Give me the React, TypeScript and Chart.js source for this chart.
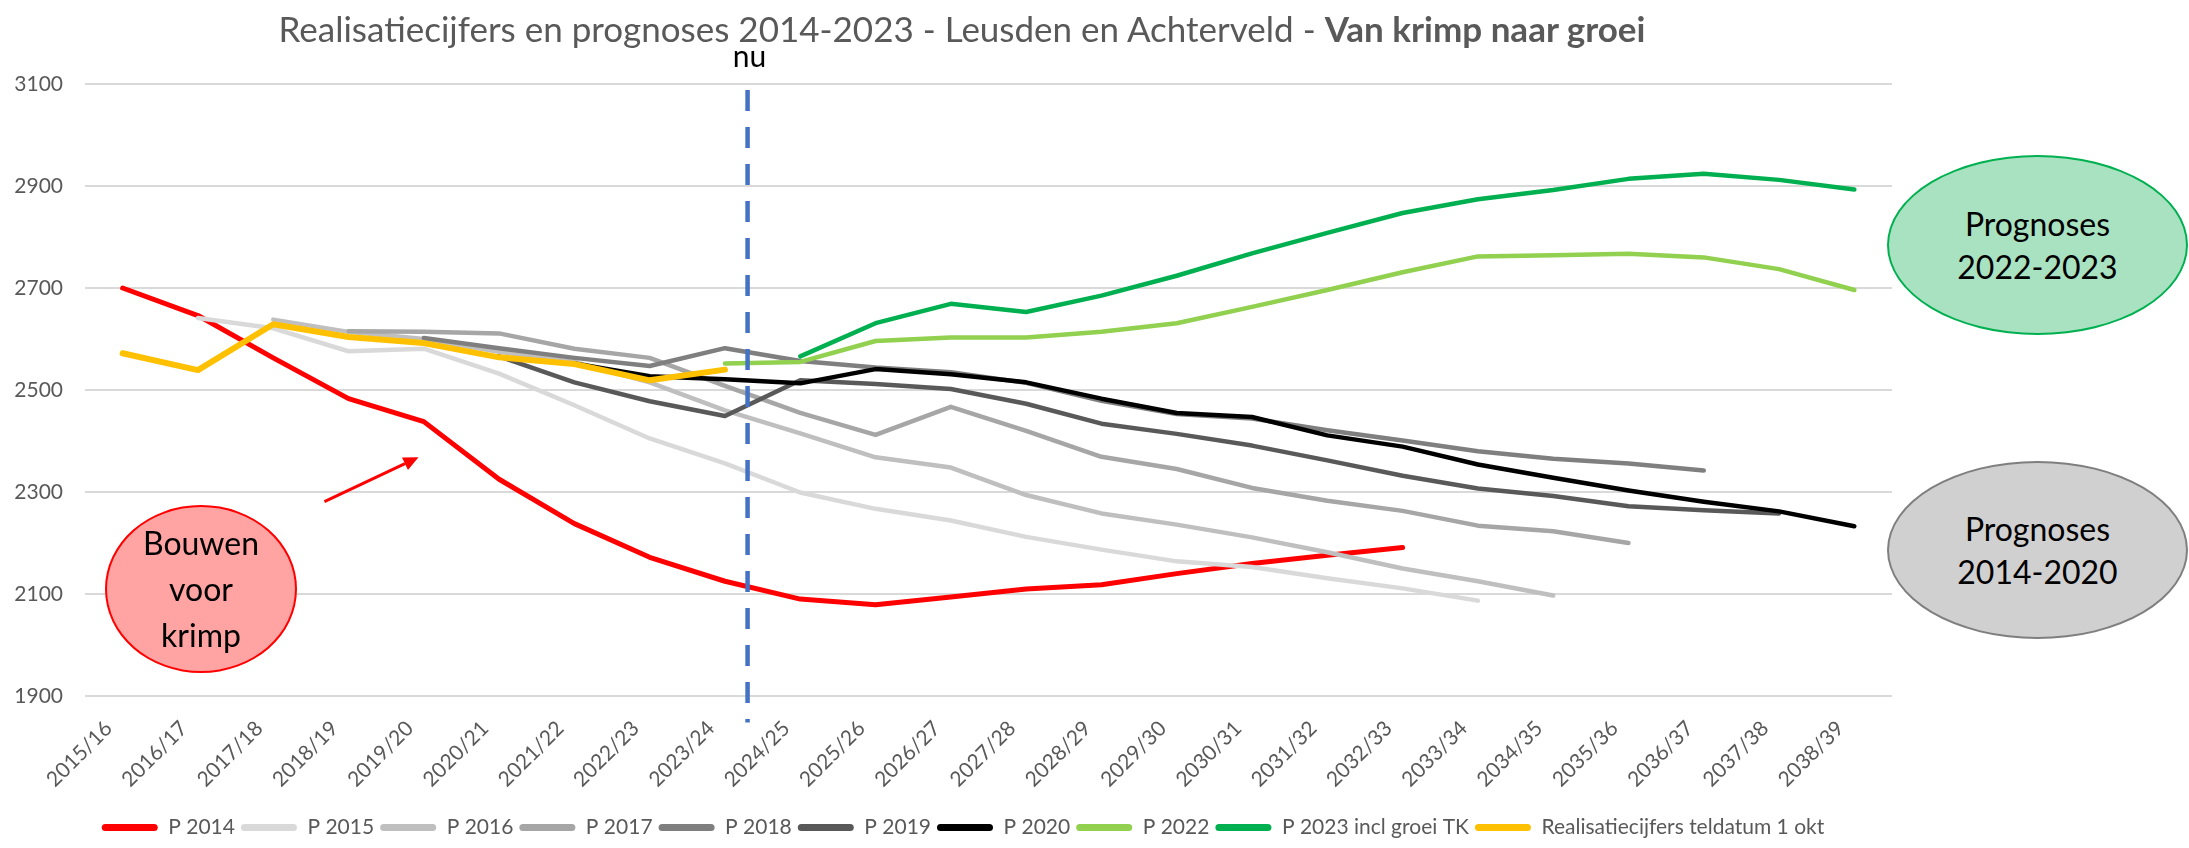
import React, { useEffect, useRef } from "react";
import { Chart, registerables } from "chart.js";

Chart.register(...registerables);

const N = null;

const CATEGORIES = [
  "2015/16", "2016/17", "2017/18", "2018/19", "2019/20", "2020/21", "2021/22", "2022/23",
  "2023/24", "2024/25", "2025/26", "2026/27", "2027/28", "2028/29", "2029/30", "2030/31",
  "2031/32", "2032/33", "2033/34", "2034/35", "2035/36", "2036/37", "2037/38", "2038/39",
];

const P2014 = [2700, 2646, 2563, 2483, 2438, 2325, 2238, 2172, 2125, 2090, 2079, 2094, 2110, 2118, 2140, 2160, 2176, 2191, N, N, N, N, N, N];
const P2015 = [N, 2641, 2621, 2576, 2581, 2532, 2470, 2405, 2356, 2299, 2267, 2244, 2212, 2187, 2164, 2153, 2131, 2111, 2087, N, N, N, N, N];
const P2016 = [N, N, 2638, 2614, 2600, 2575, 2555, 2515, 2460, 2415, 2368, 2348, 2294, 2258, 2236, 2211, 2182, 2150, 2125, 2097, N, N, N, N];
const P2017 = [N, N, N, 2615, 2614, 2611, 2581, 2563, 2508, 2455, 2412, 2467, 2420, 2369, 2345, 2308, 2283, 2263, 2234, 2223, 2200, N, N, N];
const P2018 = [N, N, N, N, 2602, 2582, 2563, 2547, 2582, 2557, 2544, 2535, 2514, 2479, 2453, 2444, 2421, 2401, 2380, 2365, 2356, 2342, N, N];
const P2019 = [N, N, N, N, N, 2566, 2515, 2478, 2449, 2519, 2512, 2502, 2473, 2434, 2414, 2391, 2362, 2332, 2307, 2292, 2272, 2264, 2258, N];
const P2020 = [N, N, N, N, N, N, 2552, 2527, 2521, 2513, 2541, 2531, 2515, 2483, 2455, 2447, 2411, 2389, 2354, 2328, 2303, 2281, 2262, 2233];
const P2022 = [N, N, N, N, N, N, N, N, 2552, 2555, 2596, 2603, 2603, 2614, 2631, 2663, 2696, 2731, 2762, 2764, 2767, 2760, 2737, 2696];
const P2023 = [N, N, N, N, N, N, N, N, N, 2566, 2631, 2669, 2653, 2685, 2724, 2768, 2808, 2847, 2874, 2892, 2914, 2924, 2912, 2893];
const REALISATIE = [2572, 2539, 2629, 2604, 2592, 2564, 2551, 2519, 2540, N, N, N, N, N, N, N, N, N, N, N, N, N, N, N];

const SERIES_LABELS = [
  "P 2014", "P 2015", "P 2016", "P 2017", "P 2018", "P 2019", "P 2020",
  "P 2022", "P 2023 incl groei TK", "Realisatiecijfers teldatum 1 okt",
];
const SERIES_DATA = [P2014, P2015, P2016, P2017, P2018, P2019, P2020, P2022, P2023, REALISATIE];
const SERIES_COLORS = [
  "#FF0000", "#D9D9D9", "#BFBFBF", "#A6A6A6", "#7F7F7F", "#595959", "#000000",
  "#92D050", "#00B050", "#FFC000",
];
const SERIES_WIDTHS = [5, 4.5, 4.5, 4.5, 4.5, 4.5, 4.5, 4.5, 4.5, 6];

const Y_MIN = 1900;
const Y_MAX = 3100;
const Y_STEP = 200;

// annotation anchors (category index, value)
const NU_INDEX = 8.3;
const NU_TOP = 3088;
const NU_BOTTOM = 1848;
const NU_LABEL_VALUE = 3152;
const ARROW_FROM = { x: 2.68, y: 2281 };
const ARROW_TO = { x: 3.93, y: 2368 };

const LEGEND_SHIFT = 17;

const FONT = "Lato";
const TEXT_GREY = "#595959";

const legendShiftPlugin = {
  id: "legendShift",
  afterLayout(chart: any) {
    const lg = chart.legend;
    if (lg) {
      lg.left += LEGEND_SHIFT;
      lg.right += LEGEND_SHIFT;
    }
  },
};

const annotationPlugin = {
  id: "annotations",
  afterDatasetsDraw(chart: any) {
    const { ctx } = chart;
    const xs = chart.scales.x;
    const ys = chart.scales.y;
    ctx.save();
    // "nu" dashed line
    const nx = xs.getPixelForValue(NU_INDEX);
    ctx.strokeStyle = "#4472C4";
    ctx.lineWidth = 4.5;
    ctx.setLineDash([21, 16]);
    ctx.beginPath();
    ctx.moveTo(nx, ys.getPixelForValue(NU_TOP));
    ctx.lineTo(nx, ys.getPixelForValue(NU_BOTTOM));
    ctx.stroke();
    ctx.setLineDash([]);
    ctx.fillStyle = "#000000";
    ctx.font = `30px ${FONT}`;
    ctx.textAlign = "center";
    ctx.textBaseline = "middle";
    ctx.fillText("nu", nx + 2, ys.getPixelForValue(NU_LABEL_VALUE));

    // red arrow
    const x1 = xs.getPixelForValue(ARROW_FROM.x);
    const y1 = ys.getPixelForValue(ARROW_FROM.y);
    const x2 = xs.getPixelForValue(ARROW_TO.x);
    const y2 = ys.getPixelForValue(ARROW_TO.y);
    const ang = Math.atan2(y2 - y1, x2 - x1);
    const headLen = 15;
    const headW = 7;
    const bx = x2 - headLen * Math.cos(ang);
    const by = y2 - headLen * Math.sin(ang);
    ctx.strokeStyle = "#FF0000";
    ctx.fillStyle = "#FF0000";
    ctx.lineWidth = 3;
    ctx.beginPath();
    ctx.moveTo(x1, y1);
    ctx.lineTo(bx, by);
    ctx.stroke();
    ctx.beginPath();
    ctx.moveTo(x2, y2);
    ctx.lineTo(bx + headW * Math.sin(ang), by - headW * Math.cos(ang));
    ctx.lineTo(bx - headW * Math.sin(ang), by + headW * Math.cos(ang));
    ctx.closePath();
    ctx.fill();
    ctx.restore();
  },
};

export default function App() {
  const canvasRef = useRef<HTMLCanvasElement>(null);

  useEffect(() => {
    if (!canvasRef.current) return;
    Chart.defaults.font.family = FONT;
    const datasets = SERIES_LABELS.map((label, i) => ({
      label,
      data: SERIES_DATA[i],
      borderColor: SERIES_COLORS[i],
      backgroundColor: SERIES_COLORS[i],
      borderWidth: SERIES_WIDTHS[i],
      pointRadius: 0,
      tension: 0,
      borderCapStyle: "round" as const,
      borderJoinStyle: "round" as const,
      order: SERIES_LABELS.length - i,
      spanGaps: false,
    }));
    const chart = new Chart(canvasRef.current, {
      type: "line",
      data: { labels: CATEGORIES, datasets },
      options: {
        responsive: false,
        animation: false,
        layout: { padding: { left: 0, right: 297, top: 84, bottom: 0 } },
        plugins: {
          title: { display: false },
          tooltip: { enabled: false },
          legend: {
            position: "bottom",
            labels: {
              boxWidth: 56,
              boxHeight: 7,
              padding: 6,
              color: TEXT_GREY,
              font: { size: 21, family: FONT },
              useBorderRadius: true,
              borderRadius: 3.5,
              sort: (a: any, b: any) => a.datasetIndex - b.datasetIndex,
              generateLabels: (c: any) =>
                c.data.datasets.map((ds: any, i: number) => ({
                  text: ds.label,
                  fillStyle: ds.borderColor,
                  strokeStyle: ds.borderColor,
                  lineWidth: 0,
                  hidden: false,
                  datasetIndex: i,
                  fontColor: TEXT_GREY,
                  borderRadius: 3.5,
                })),
            },
          },
        },
        scales: {
          x: {
            offset: true,
            grid: { display: false, drawTicks: false },
            border: { display: false },
            ticks: {
              autoSkip: false,
              maxRotation: 45,
              minRotation: 45,
              padding: 20,
              labelOffset: -14,
              color: TEXT_GREY,
              font: { size: 21, family: FONT },
            },
            afterFit: (s: any) => {
              s.height = 115;
            },
          },
          y: {
            min: Y_MIN,
            max: Y_MAX,
            ticks: {
              stepSize: Y_STEP,
              padding: 22,
              color: TEXT_GREY,
              font: { size: 21, family: FONT },
              callback: (v: any) => String(v),
            },
            grid: { color: "#D9D9D9", lineWidth: 2, drawTicks: false },
            border: { display: false },
            afterFit: (s: any) => {
              s.width = 85;
            },
          },
        },
      },
      plugins: [legendShiftPlugin, annotationPlugin],
    });
    return () => chart.destroy();
  }, []);

  const ellipseBase: React.CSSProperties = {
    position: "absolute",
    borderRadius: "50%",
    boxSizing: "border-box",
    display: "flex",
    alignItems: "center",
    justifyContent: "center",
    textAlign: "center",
    color: "#000",
    fontFamily: FONT,
    fontSize: 32,
  };

  return (
    <div
      style={{
        position: "absolute",
        left: 0,
        top: 0,
        width: 2189,
        height: 848,
        background: "#ffffff",
        fontFamily: FONT,
        overflow: "hidden",
      }}
    >
      <canvas
        ref={canvasRef}
        width={2189}
        height={848}
        style={{ position: "absolute", left: 0, top: 0, width: 2189, height: 848 }}
      />
      <div
        style={{
          position: "absolute",
          left: 0,
          top: 9,
          width: 1924,
          textAlign: "center",
          fontSize: 35,
          lineHeight: "38px",
          color: TEXT_GREY,
          whiteSpace: "nowrap",
        }}
      >
        Realisatiecijfers en prognoses 2014-2023 - Leusden en Achterveld - <b>Van krimp naar groei</b>
      </div>
      <div
        style={{
          ...ellipseBase,
          left: 105,
          top: 505,
          width: 192,
          height: 168,
          background: "#FFA3A3",
          border: "2px solid #FF0000",
          lineHeight: "46px",
        }}
      >
        <div>
          Bouwen
          <br />
          voor
          <br />
          krimp
        </div>
      </div>
      <div
        style={{
          ...ellipseBase,
          left: 1887,
          top: 155,
          width: 301,
          height: 180,
          background: "#A9E2C0",
          border: "2px solid #00B050",
          lineHeight: "43px",
        }}
      >
        <div>
          Prognoses
          <br />
          2022-2023
        </div>
      </div>
      <div
        style={{
          ...ellipseBase,
          left: 1887,
          top: 461,
          width: 301,
          height: 178,
          background: "#D0D0D0",
          border: "2.5px solid #7F7F7F",
          lineHeight: "43px",
        }}
      >
        <div>
          Prognoses
          <br />
          2014-2020
        </div>
      </div>
    </div>
  );
}
